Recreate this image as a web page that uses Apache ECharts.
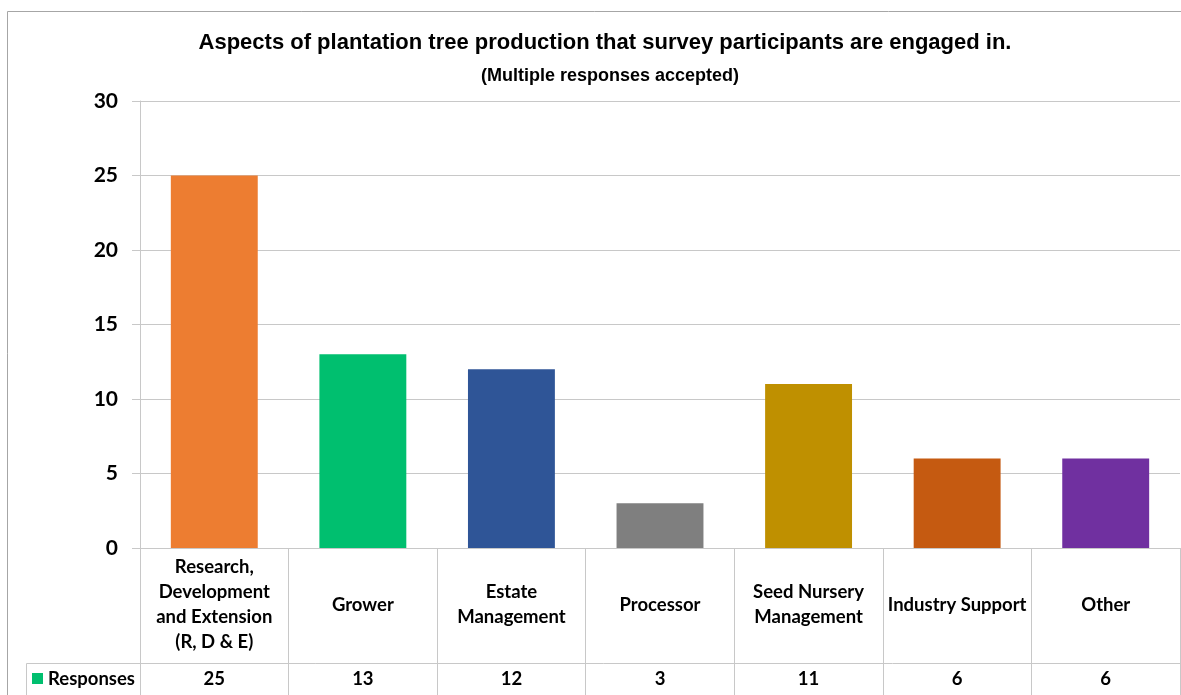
<!DOCTYPE html>
<html><head><meta charset="utf-8">
<script src="https://cdn.jsdelivr.net/npm/echarts@6/dist/echarts.min.js"></script>
<style>html,body{margin:0;padding:0;background:#fff}#c{width:1181px;height:695px}</style>
</head><body><div id="c"></div>
<script>
const categories = ['Research,\nDevelopment\nand Extension\n(R, D & E)', 'Grower', 'Estate\nManagement', 'Processor', 'Seed Nursery\nManagement', 'Industry Support', 'Other'];
const responses = [25, 13, 12, 3, 11, 6, 6];
const barColors = ['#ED7D31', '#00BF6F', '#2F5597', '#7F7F7F', '#BF9000', '#C55A11', '#7030A0'];
const yTicks = [0, 5, 10, 15, 20, 25, 30];
const seriesName = 'Responses';

const chart = echarts.init(document.getElementById('c'), null, {renderer: 'canvas'});
const gridLine = '#c8c8c8';
const labelFont = 'Lato, "Open Sans", sans-serif';
chart.setOption({
  animation: false,
  backgroundColor: '#fff',
  title: [{
    text: 'Aspects of plantation tree production that survey participants are engaged in.',
    left: 600, top: 27, textAlign: 'center',
    textStyle: {fontFamily: 'Liberation Sans, Arial, sans-serif', fontWeight: 'bold', fontSize: 22, color: '#000'}
  }, {
    text: '(Multiple responses accepted)',
    left: 605, top: 62, textAlign: 'center',
    textStyle: {fontFamily: '"Liberation Sans", Arial, sans-serif', fontWeight: 'bold', fontSize: 18, color: '#000'}
  }],
  grid: {left: 140, right: 1, top: 101, bottom: 147, containLabel: false},
  xAxis: [{
    type: 'category', data: categories, position: 'bottom',
    axisLine: {show: true, lineStyle: {color: gridLine, width: 1}},
    axisTick: {show: true, alignWithLabel: false, length: 147, lineStyle: {color: gridLine}},
    axisLabel: {interval: 0, margin: 57, verticalAlign: 'middle', align: 'center',
      fontFamily: labelFont, fontWeight: 'bold', fontSize: 18.5, lineHeight: 25, color: '#000'}
  }, {
    type: 'category', data: responses.map(String), position: 'bottom',
    axisLine: {show: false}, axisTick: {show: false},
    axisLabel: {interval: 0, margin: 131, verticalAlign: 'middle', align: 'center',
      fontFamily: labelFont, fontWeight: 'bold', fontSize: 18.5, color: '#000'}
  }],
  yAxis: {
    type: 'value', min: yTicks[0], max: yTicks[yTicks.length - 1], interval: 5,
    axisLine: {show: true, lineStyle: {color: gridLine}},
    axisTick: {show: true, length: 8, lineStyle: {color: gridLine}},
    splitLine: {show: true, lineStyle: {color: gridLine}},
    axisLabel: {margin: 22, fontFamily: labelFont, fontWeight: 'bold', fontSize: 21, color: '#000'}
  },
  series: [{
    name: seriesName, type: 'bar', barWidth: '58.5%',
    data: responses.map((v, i) => ({value: v, itemStyle: {color: barColors[i]}}))
  }],
  graphic: [
    {type: 'rect', shape: {x: 7.5, y: 11.5, width: 1200, height: 700}, style: {fill: 'none', stroke: '#a6a6a6', lineWidth: 1}, silent: true},
    {type: 'line', shape: {x1: 26.5, y1: 663.5, x2: 1181, y2: 663.5}, style: {stroke: gridLine, lineWidth: 1}},
    {type: 'line', shape: {x1: 26.5, y1: 663.5, x2: 26.5, y2: 700}, style: {stroke: gridLine, lineWidth: 1}},
    {type: 'rect', shape: {x: 32, y: 673, width: 11, height: 11}, style: {fill: barColors[1]}},
    {type: 'text', x: 48, y: 679, style: {text: seriesName, fontFamily: labelFont, fontWeight: 'bold', fontSize: 18.5, fill: '#000', verticalAlign: 'middle'}}
  ]
});
</script></body></html>
